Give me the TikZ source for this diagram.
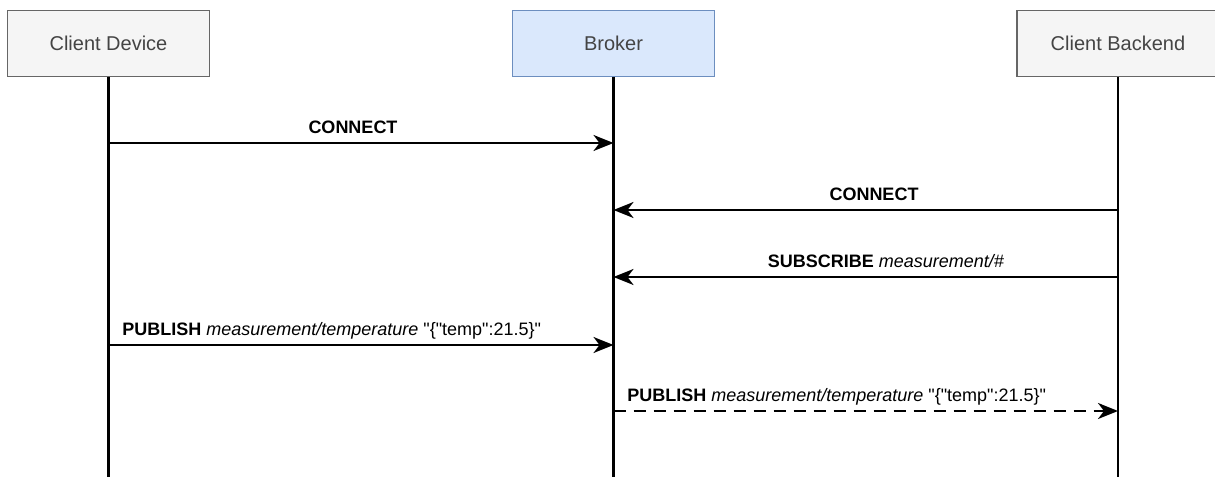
\documentclass[tikz,border=0pt]{standalone}
\usepackage{fontspec}
\setmainfont{Liberation Sans}[Ligatures=TeXOff]
\usetikzlibrary{arrows.meta}
\definecolor{boxgray}{HTML}{F5F5F5}
\definecolor{boxedge}{HTML}{666666}
\definecolor{brokerfill}{HTML}{DAE8FC}
\definecolor{brokeredge}{HTML}{6C8EBF}
\definecolor{labelgray}{HTML}{444444}
\newcommand{\dq}{\symbol{34}}
\tikzset{
  x=0.75pt, y=-0.75pt,
  actor/.style={draw=boxedge, fill=boxgray, line width=0.9pt, minimum width=151.5pt,
    minimum height=50pt, inner sep=0pt, text=labelgray, font=\fontsize{15}{18}\selectfont},
  brokerbox/.style={actor, draw=brokeredge, fill=brokerfill},
  lifeline/.style={line width=1.7pt},
  msg/.style={line width=1.7pt, -{Stealth[length=15pt, width=12pt, inset=4.5pt]}},
  msgdash/.style={msg, dash pattern=on 9pt off 6pt},
  msglabel/.style={font=\fontsize{13.5}{16}\selectfont, inner sep=0pt, anchor=base},
}
\begin{document}
\begin{tikzpicture}
\useasboundingbox (0,0) rectangle (1215,477);
% participants
\node[actor] (dev) at (108.5,43.5) {Client Device};
\node[brokerbox] (brk) at (613.5,43.5) {Broker};
\node[actor] (be) at (1118,43.5) {Client Backend};
% lifeline ends
\coordinate (devEnd) at (108.5,480);
\coordinate (brkEnd) at (613.5,480);
\coordinate (beEnd) at (1118,480);
\draw[lifeline] (dev.south) -- (devEnd);
\draw[lifeline] (brk.south) -- (brkEnd);
\draw[lifeline] (be.south) -- (beEnd);
% message anchor points on the lifelines
\coordinate (d1) at (108.5,143);  \coordinate (b1) at (613.5,143);
\coordinate (e2) at (1118,210);   \coordinate (b2) at (613.5,210);
\coordinate (e3) at (1118,277);   \coordinate (b3) at (613.5,277);
\coordinate (d4) at (108.5,345);  \coordinate (b4) at (613.5,345);
\coordinate (b5) at (613.5,411);  \coordinate (e5) at (1118,411);
% messages
\draw[msg] (d1) -- (b1);
\node[msglabel] (l1) at (353,134) {\bfseries CONNECT};
\draw[msg] (e2) -- (b2);
\node[msglabel] (l2) at (874,201) {\bfseries CONNECT};
\draw[msg] (e3) -- (b3);
\node[msglabel] (l3) at (886,268) {\textbf{SUBSCRIBE} \textit{measurement/\#}};
\draw[msg] (d4) -- (b4);
\node[msglabel, anchor=base west] (l4) at (122,336) {\textbf{PUBLISH} \textit{measurement/temperature} \dq\{\dq temp\dq:21.5\}\dq};
\draw[msgdash] (b5) -- (e5);
\node[msglabel, anchor=base west] (l5) at (627,402) {\textbf{PUBLISH} \textit{measurement/temperature} \dq\{\dq temp\dq:21.5\}\dq};
\end{tikzpicture}
\end{document}
